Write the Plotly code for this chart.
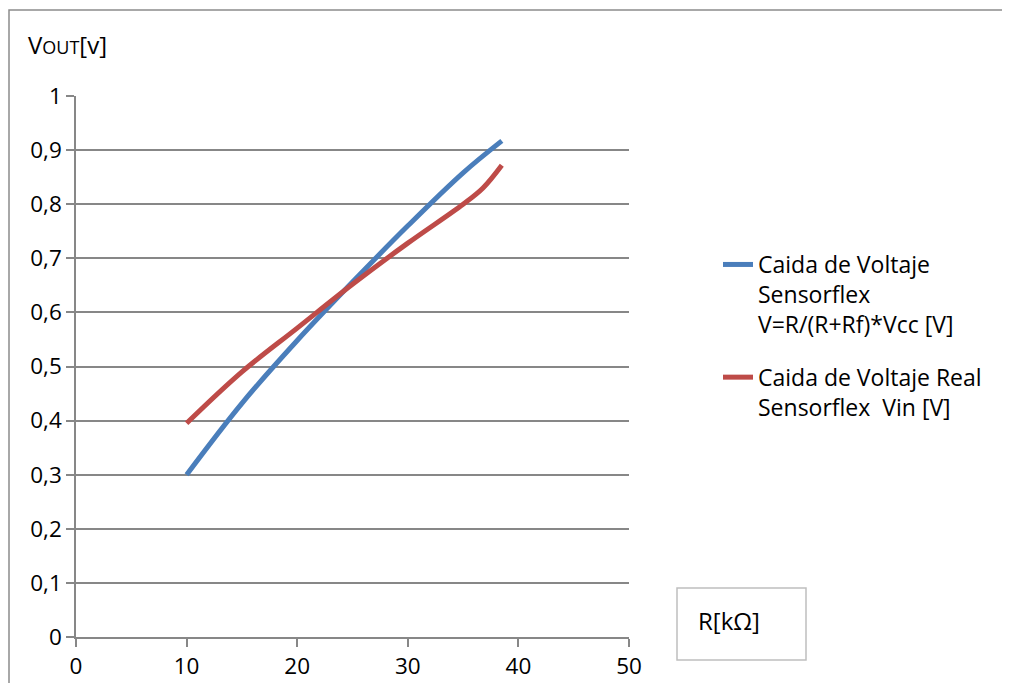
import plotly.graph_objects as go

# Data
r_model = [10, 15, 20, 25, 30, 35, 38.5]
v_model = [0.30, 0.432, 0.548, 0.656, 0.76, 0.858, 0.917]

r_real = [10, 15, 20, 25, 30, 35, 36.8, 38.5]
v_real = [0.395, 0.49, 0.571, 0.652, 0.728, 0.80, 0.83, 0.872]

name_model = "Caida de Voltaje<br>Sensorflex<br>V=R/(R+Rf)*Vcc [V]"
name_real = "Caida de Voltaje Real<br>Sensorflex  Vin [V]"

FONT = "Open Sans"
GRID = "#878787"

OFF = 8  # page body margin
W, H = 994, 675
L, T = 76 - OFF, 96 - OFF
PW, PH = 553, 541
R = W - L - PW
B = H - T - PH


def px(x):
    return (x - OFF - L) / PW


def py(y):
    return (T + PH - (y - OFF)) / PH


fig = go.Figure()
fig.add_trace(go.Scatter(x=r_model, y=v_model, mode="lines", name=name_model,
                         legendgroup="a",
                         line=dict(color="#4A7EBB", width=5, shape="spline")))
fig.add_trace(go.Scatter(x=r_real, y=v_real, mode="lines", name=name_real,
                         legendgroup="b",
                         line=dict(color="#BE4B48", width=5, shape="spline")))

fig.update_layout(
    width=W, height=H,
    margin=dict(l=L, r=R, t=T, b=B, pad=0, autoexpand=False),
    paper_bgcolor="white", plot_bgcolor="white",
    separators=",.",
    font=dict(family=FONT, size=22.5, color="black"),
    legend=dict(x=px(718), y=py(243), xanchor="left", yanchor="top",
                valign="top", tracegroupgap=20, font=dict(size=23, family=FONT),
                bgcolor="rgba(0,0,0,0)"),
    xaxis=dict(range=[0, 50], dtick=10, showgrid=False, zeroline=False,
               showline=True, linecolor=GRID, linewidth=1.5, automargin=False,
               ticks="outside", ticklen=8, tickcolor=GRID, tickwidth=1.5,
               tickfont=dict(size=22.5, family=FONT)),
    yaxis=dict(range=[0, 1], dtick=0.1, showgrid=True, gridcolor=GRID, gridwidth=1.5,
               zeroline=False, showline=True, linecolor=GRID, linewidth=1.5,
               automargin=False,
               ticks="outside", ticklen=8, tickcolor=GRID, tickwidth=1.5,
               tickfont=dict(size=22.5, family=FONT)),
)

# outer chart frame
fig.add_shape(type="rect", xref="paper", yref="paper",
              x0=px(9), x1=px(1100), y0=py(800), y1=py(10),
              line=dict(color="#8C8C8C", width=1.5), layer="below")

# axis-title boxes
fig.add_shape(type="rect", xref="paper", yref="paper",
              x0=px(677), x1=px(806), y0=py(660), y1=py(588),
              line=dict(color="#BFBFBF", width=1.5))
fig.add_annotation(x=px(696), y=py(620), xref="paper", yref="paper",
                   text="R[kΩ]", showarrow=False, xanchor="left", yanchor="middle",
                   font=dict(size=24, family=FONT))
fig.add_annotation(x=px(26), y=py(45), xref="paper", yref="paper",
                   text="V<span style='font-size:18px'>OUT</span>[v]", showarrow=False,
                   xanchor="left", yanchor="middle", font=dict(size=24, family=FONT))

fig.write_html("out.html")
